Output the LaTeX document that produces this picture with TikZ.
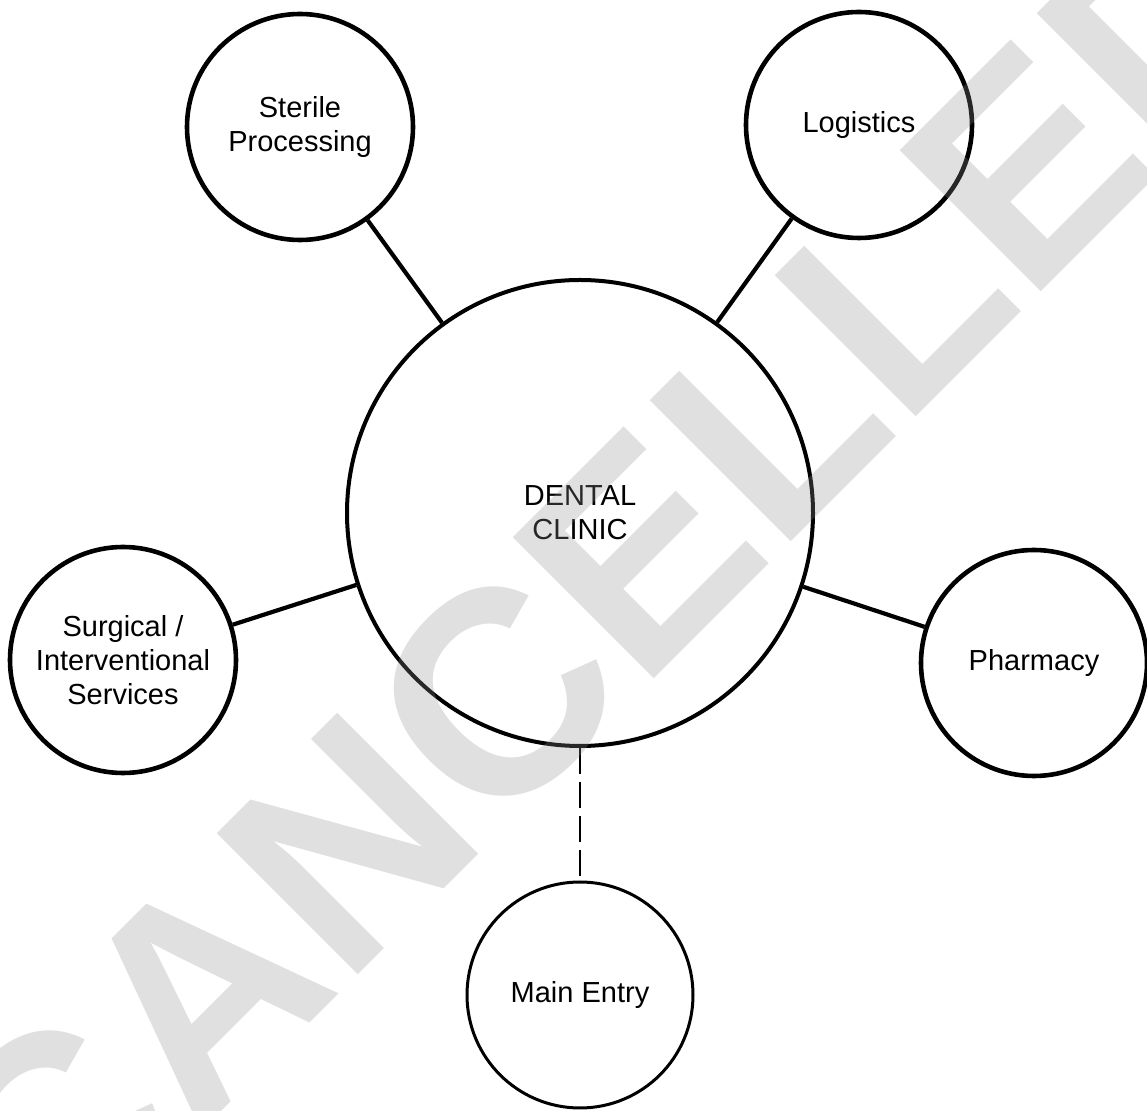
\documentclass[tikz,border=0pt]{standalone}
\usepackage{fontspec}
\setmainfont{Liberation Sans}
\begin{document}
\begin{tikzpicture}[x=0.5pt,y=-0.5pt,
  room/.style={circle,draw,line width=2.3pt,minimum size=113pt,inner sep=0pt,
    align=center,font=\fontsize{14.5}{17}\selectfont},
  link/.style={line width=2.1pt}]
\useasboundingbox (0,0) rectangle (1147,1111);
\node[room,line width=2pt,minimum size=233pt] (clinic) at (580,513) {DENTAL\\CLINIC};
\node[room] (sterile) at (300,127) {Sterile\\Processing};
\node[room] (logistics) at (859,125) {Logistics};
\node[room] (surgical) at (123,660) {Surgical /\\Interventional\\Services};
\node[room] (pharmacy) at (1034,663) {Pharmacy};
\node[room,line width=1.5pt] (entry) at (580,995) {Main Entry};
\draw[link] (sterile) -- (clinic);
\draw[link] (logistics) -- (clinic);
\draw[link] (surgical) -- (clinic);
\draw[link] (pharmacy) -- (clinic);
\draw[line width=1.3pt,dash pattern=on 13pt off 4pt] (clinic) -- (entry);
% stamp across the sheet
\node[rotate=45,text=black!44,opacity=0.28,inner sep=0pt,
  font=\fontsize{145}{145}\selectfont\bfseries] (stamp) at (610,582) {CANCELLED};
\end{tikzpicture}
\end{document}
